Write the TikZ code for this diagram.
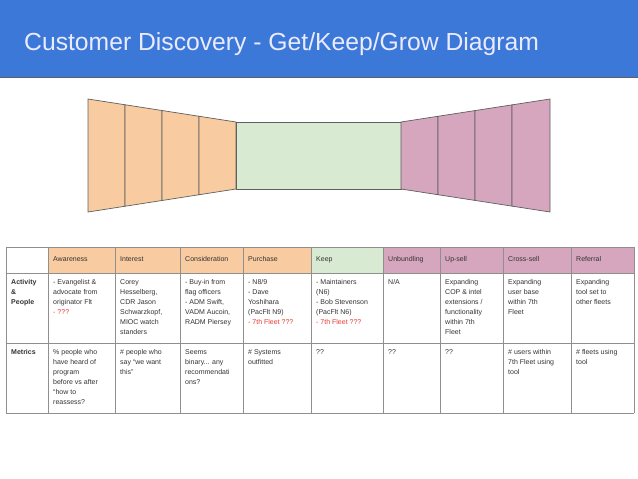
\documentclass[tikz,border=0pt]{standalone}
\usepackage{fontspec}
\setmainfont{Liberation Sans}
\definecolor{titleblue}{HTML}{3C78D8}
\definecolor{getorange}{HTML}{F8CBA0}
\definecolor{keepgreen}{HTML}{D9EAD3}
\definecolor{growpink}{HTML}{D5A6BD}
\definecolor{edgegray}{HTML}{5F5F5F}
\definecolor{alertred}{HTML}{E53935}
\begin{document}
\begin{tikzpicture}[
    x=1pt, y=-1pt,
    stage/.style={draw=edgegray, line width=0.7pt},
    cell/.style={draw=edgegray!70, line width=0.5pt},
    txt/.style={anchor=north west, align=left, inner sep=0pt, font=\fontsize{7}{10}\selectfont, text=black!80},
    red/.style={text=alertred}
]
    \useasboundingbox (0,0) rectangle (638,479);

    % Title
    \fill[titleblue] (0,0) rectangle (638,77);
    \draw[edgegray, line width=0.6pt] (0,77) -- (638,77);
    \node[anchor=base west, inner sep=0pt, text=white!92!blue, font=\fontsize{24.7}{28}\selectfont] (title) at (24,50) {Customer Discovery - Get/Keep/Grow Diagram};

    % Funnel
    \foreach \a/\b [count=\i] in {88/125,125/162,162/199,199/236}{
        \pgfmathsetmacro\ta{99+23*(\a-88)/148}
        \pgfmathsetmacro\tb{99+23*(\b-88)/148}
        \filldraw[stage, fill=getorange] (\a,\ta) -- (\b,\tb) -- (\b,311-\tb) -- (\a,311-\ta) -- cycle;
    }
    \filldraw[stage, fill=keepgreen] (236,122) rectangle (401,189);
    \foreach \a/\b [count=\i] in {401/438,438/475,475/512,512/550}{
        \pgfmathsetmacro\ta{122-23*(\a-401)/149}
        \pgfmathsetmacro\tb{122-23*(\b-401)/149}
        \filldraw[stage, fill=growpink] (\a,\ta) -- (\b,\tb) -- (\b,311-\tb) -- (\a,311-\ta) -- cycle;
    }

    % Table header
    \foreach \a/\b/\c/\t [count=\i] in {
        48/115/getorange/Awareness, 115/180/getorange/Interest,
        180/243/getorange/Consideration, 243/311/getorange/Purchase,
        311/383/keepgreen/Keep, 383/440/growpink/Unbundling,
        440/503/growpink/Up-sell, 503/571/growpink/Cross-sell,
        571/634/growpink/Referral}{
        \fill[\c] (\a,247) rectangle (\b,273);
        \node[txt] (h\i) at (\a+5,256) {\t};
    }
    % Grid
    \foreach \x in {6,48,115,180,243,311,383,440,503,571,634}
        \draw[cell] (\x,247) -- (\x,413);
    \foreach \y in {247,273,343,413}
        \draw[cell] (6,\y) -- (634,\y);

    % Row labels
    \node[txt, font=\fontsize{7}{10}\selectfont\bfseries] (act) at (11,279) {Activity\\\&\\People};
    \node[txt, font=\fontsize{7}{10}\selectfont\bfseries] (met) at (11,349) {Metrics};

    % Activity & People
    \node[txt] (a1) at (53,279) {- Evangelist \&\\advocate from\\originator Flt\\{\color{alertred}- ???}};
    \node[txt] (a2) at (120,279) {Corey\\Hesselberg,\\CDR Jason\\Schwarzkopf,\\MIOC watch\\standers};
    \node[txt] (a3) at (185,279) {- Buy-in from\\flag officers\\- ADM Swift,\\VADM Aucoin,\\RADM Piersey};
    \node[txt] (a4) at (248,279) {- N8/9\\- Dave\\Yoshihara\\(PacFlt N9)\\{\color{alertred}- 7th Fleet ???}};
    \node[txt] (a5) at (316,279) {- Maintainers\\(N6)\\- Bob Stevenson\\(PacFlt N6)\\{\color{alertred}- 7th Fleet ???}};
    \node[txt] (a6) at (388,279) {N/A};
    \node[txt] (a7) at (445,279) {Expanding\\COP \& intel\\extensions /\\functionality\\within 7th\\Fleet};
    \node[txt] (a8) at (508,279) {Expanding\\user base\\within 7th\\Fleet};
    \node[txt] (a9) at (576,279) {Expanding\\tool set to\\other fleets};

    % Metrics
    \node[txt] (m1) at (53,349) {\% people who\\have heard of\\program\\before vs after\\``how to\\reassess?};
    \node[txt] (m2) at (120,349) {\# people who\\say ``we want\\this''};
    \node[txt] (m3) at (185,349) {Seems\\binary... any\\recommendati\\ons?};
    \node[txt] (m4) at (248,349) {\# Systems\\outfitted};
    \node[txt] (m5) at (316,349) {??};
    \node[txt] (m6) at (388,349) {??};
    \node[txt] (m7) at (445,349) {??};
    \node[txt] (m8) at (508,349) {\# users within\\7th Fleet using\\tool};
    \node[txt] (m9) at (576,349) {\# fleets using\\tool};
\end{tikzpicture}
\end{document}
